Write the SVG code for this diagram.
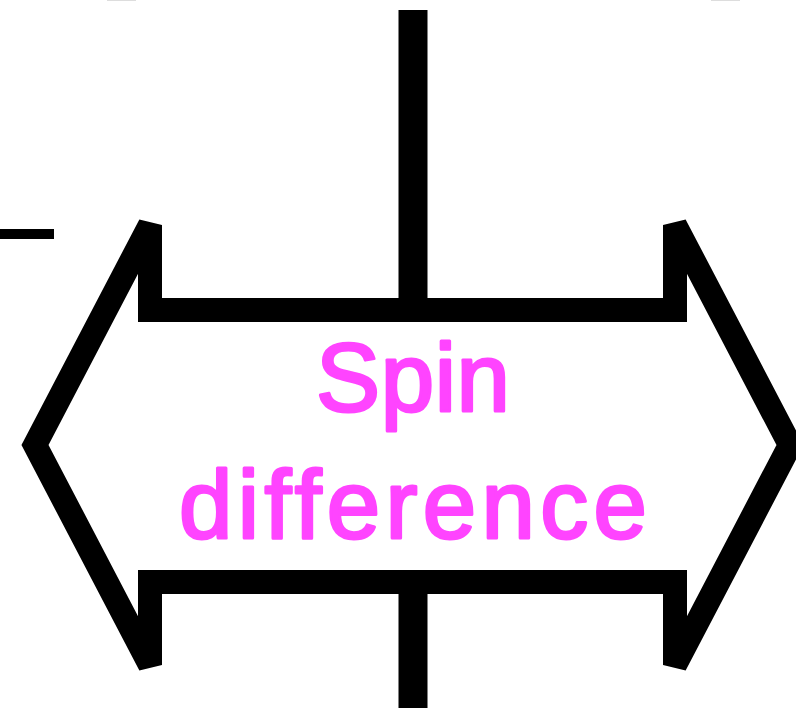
<svg xmlns="http://www.w3.org/2000/svg" width="796" height="708" viewBox="0 0 796 708">
  <style>
    .conn { stroke: #000; fill: none; }
    .shape { fill: #fff; stroke: #000; stroke-width: 24; stroke-linejoin: miter; stroke-miterlimit: 4; }
    .label { font-family: "Liberation Sans", Arial, sans-serif; font-size: 96px; fill: #ff44ff; stroke: #ff44ff; stroke-width: 3; stroke-linejoin: round; text-anchor: middle; }
  </style>
  <rect width="796" height="708" fill="#fff"/>
  <g id="connectors">
    <line class="conn" x1="413" y1="10" x2="413" y2="310" stroke-width="29"/>
    <line class="conn" x1="413" y1="582" x2="413" y2="708" stroke-width="29"/>
    <line class="conn" x1="0" y1="234" x2="54" y2="234" stroke-width="10"/>
    <line x1="107" y1="0.5" x2="136" y2="0.5" stroke="#dddddd" stroke-width="1"/>
    <line x1="711" y1="0.5" x2="740" y2="0.5" stroke="#dddddd" stroke-width="1"/>
  </g>
  <g id="spin-difference">
    <polygon class="shape" points="150,225 150,310 675,310 675,225 790,445 675,665 675,582 150,582 150,665 35,445"/>
    <text class="label" x="413" y="411" textLength="194" lengthAdjust="spacing">Spin</text>
    <text class="label" x="413" y="538" textLength="468" lengthAdjust="spacing">difference</text>
  </g>
</svg>
